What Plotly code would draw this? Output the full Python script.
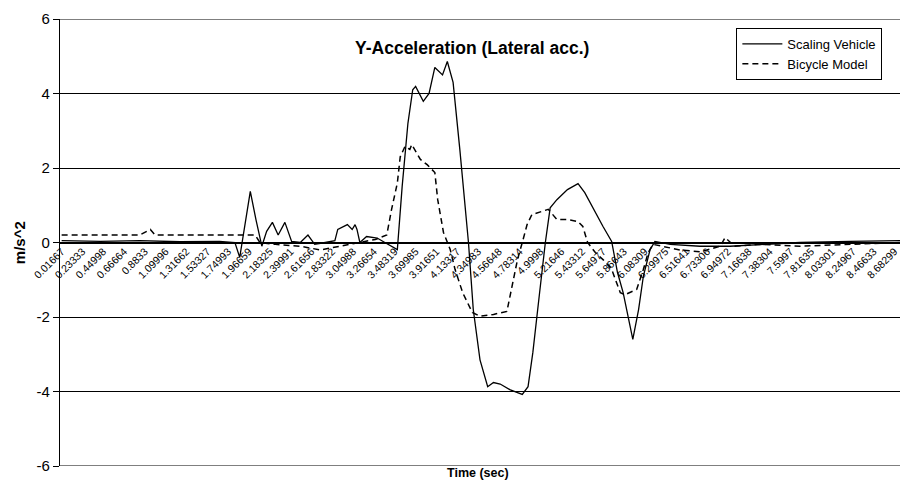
import plotly.graph_objects as go

# ---- data ----
sv_t = [0.017, 0.42, 0.83, 1.25, 1.66, 1.82, 1.87, 1.91, 1.98, 2.04, 2.10, 2.15, 2.21, 2.27, 2.34,
        2.41, 2.50, 2.58, 2.65, 2.76, 2.86, 2.89, 2.99, 3.04, 3.07, 3.09, 3.12, 3.19, 3.30, 3.38,
        3.51, 3.56, 3.62, 3.67, 3.70, 3.78, 3.84, 3.90, 3.98, 4.03, 4.09, 4.16, 4.21, 4.25, 4.30,
        4.37, 4.45, 4.51, 4.58, 4.68, 4.76, 4.81, 4.87, 4.92, 4.99, 5.05, 5.10, 5.17, 5.28, 5.39,
        5.46, 5.55, 5.65, 5.74, 5.80, 5.86, 5.91, 5.96, 6.02, 6.07, 6.14, 6.19, 6.35, 6.66, 6.97,
        7.28, 7.70, 8.22, 8.74]
sv_y = [0.05, 0.03, 0.05, 0.02, 0.03, 0.0, -0.4, 0.2, 1.37, 0.6, -0.1, 0.3, 0.54, 0.2, 0.54,
        0.03, 0.0, 0.2, -0.05, 0.0, 0.05, 0.35, 0.48, 0.35, 0.48, 0.35, 0.0, 0.16, 0.12, 0.0,
        -0.19, 1.5, 3.2, 4.1, 4.19, 3.79, 4.0, 4.7, 4.5, 4.86, 4.3, 2.5, 1.15, 0.0, -1.8,
        -3.15, -3.87, -3.76, -3.8, -3.95, -4.03, -4.08, -3.87, -2.95, -1.35, 0.0, 0.93, 1.15, 1.42, 1.58,
        1.34, 0.89, 0.43, 0.03, -0.8, -1.35, -1.98, -2.6, -1.8, -0.9, -0.19, 0.03, -0.05, -0.1, -0.1,
        -0.05, 0.0, 0.03, 0.05]

bm_t = [0.017, 0.83, 0.94, 0.99, 1.87, 2.03, 2.08, 2.24, 2.50, 2.71, 2.91, 3.12, 3.28, 3.40, 3.45,
        3.51, 3.54, 3.59, 3.64, 3.66, 3.75, 3.82, 3.90, 3.93, 3.99, 4.06, 4.11, 4.19, 4.29, 4.37,
        4.51, 4.65, 4.68, 4.76, 4.81, 4.86, 4.91, 5.02, 5.08, 5.17, 5.28, 5.39, 5.44, 5.49, 5.57,
        5.65, 5.74, 5.83, 5.88, 6.00, 6.07, 6.12, 6.17, 6.45, 6.66, 6.87, 6.92, 7.02, 7.28, 7.70,
        8.22, 8.74]
bm_y = [0.2, 0.2, 0.35, 0.2, 0.2, 0.2, 0.0, -0.05, -0.1, -0.2, -0.1, 0.0, 0.08, 0.2, 0.89,
        1.6, 2.3, 2.58, 2.5, 2.63, 2.23, 2.09, 1.88, 1.15, 0.27, -0.19, -0.72, -1.35, -1.88, -1.98,
        -1.93, -1.85, -1.45, -0.46, 0.0, 0.48, 0.75, 0.83, 0.89, 0.62, 0.62, 0.56, 0.43, 0.0, -0.27,
        -0.46, -0.72, -1.35, -1.4, -1.26, -0.72, -0.27, -0.05, -0.2, -0.25, -0.1, 0.13, -0.1, -0.05, -0.1,
        -0.05, 0.0]

tick_text = ["0.01667", "0.23333", "0.44998", "0.66664", "0.8833", "1.09996", "1.31662", "1.53327",
             "1.74993", "1.96659", "2.18325", "2.39991", "2.61656", "2.83322", "3.04988", "3.26654",
             "3.48319", "3.69985", "3.91651", "4.13317", "4.34983", "4.56648", "4.78314", "4.9998",
             "5.21646", "5.43312", "5.64977", "5.86643", "6.08309", "6.29975", "6.51641", "6.73306",
             "6.94972", "7.16638", "7.38304", "7.5997", "7.81635", "8.03301", "8.24967", "8.46633",
             "8.68299"]
tick_vals = [float(s) for s in tick_text]

y_tick_vals = [-6, -4, -2, 0, 2, 4, 6]
y_tick_text = ["-6", "-4", "-2", "0", "2", "4", "6"]

FONT = "Liberation Sans, Arial, sans-serif"

fig = go.Figure()
fig.add_trace(go.Scatter(x=sv_t, y=sv_y, mode="lines", name="Scaling Vehicle",
                         line=dict(color="black", width=1.3)))
fig.add_trace(go.Scatter(x=bm_t, y=bm_y, mode="lines", name="Bicycle Model",
                         line=dict(color="black", width=1.5, dash="6px,4px")))

fig.update_layout(
    width=900, height=482,
    margin=dict(l=60, r=0, t=19, b=16),
    paper_bgcolor="white", plot_bgcolor="white",
    font=dict(family=FONT, color="black"),
    showlegend=True,
    legend=dict(x=0.979, xanchor="right", y=0.98, yanchor="top",
                bordercolor="black", borderwidth=1, bgcolor="white",
                font=dict(size=13, family=FONT), itemwidth=40,
                tracegroupgap=0),
    xaxis=dict(range=[0, 8.74], tickvals=tick_vals, ticktext=tick_text, tickangle=-45,
               tickfont=dict(size=10.5, family=FONT), showgrid=False, zeroline=False,
               anchor="free", position=0.5, showline=False, ticks=""),
    yaxis=dict(range=[-6, 6], tickvals=y_tick_vals, ticktext=y_tick_text,
               showgrid=True, gridcolor="black", gridwidth=1,
               zeroline=True, zerolinecolor="black", zerolinewidth=2.2,
               showline=True, linecolor="black", linewidth=1.2,
               ticks="outside", ticklen=6, tickcolor="black",
               tickfont=dict(size=15, family=FONT)),
    shapes=[
        dict(type="line", xref="paper", yref="y", x0=0, x1=1, y0=6, y1=6,
             line=dict(color="black", width=1.2)),
        dict(type="line", xref="paper", yref="y", x0=0, x1=1, y0=-6, y1=-6,
             line=dict(color="black", width=1.2)),
    ],
    annotations=[
        dict(text="<b>Y-Acceleration (Lateral acc.)</b>", xref="paper", yref="paper",
             x=0.49, y=0.963, xanchor="center", showarrow=False,
             font=dict(size=17.5, family=FONT)),
        dict(text="<b>Time (sec)</b>", xref="paper", yref="paper",
             x=0.4976, y=-0.035, xanchor="center", showarrow=False,
             font=dict(size=12.5, family=FONT)),
        dict(text="<b>m/s^2</b>", xref="paper", yref="paper", textangle=-90,
             x=-0.048, y=0.5, xanchor="center", showarrow=False,
             font=dict(size=15, family=FONT)),
    ],
)

fig.write_html("out.html")
